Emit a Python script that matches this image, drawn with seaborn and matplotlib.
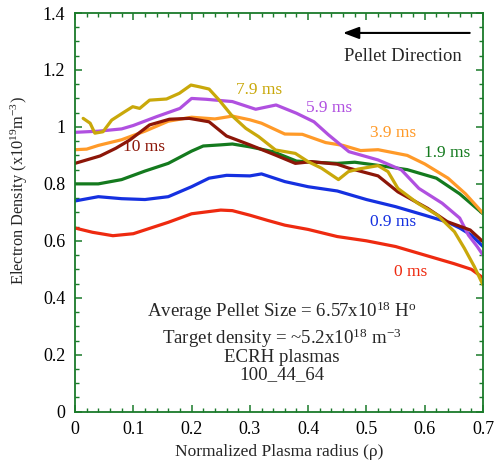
import matplotlib
matplotlib.use("Agg")
import matplotlib.pyplot as plt
import seaborn as sns
import pandas as pd
import numpy as np

sns.set_theme(style="ticks")
plt.rcParams['font.family'] = ['Liberation Serif', 'DejaVu Serif']
plt.rcParams['mathtext.fontset'] = 'custom'
plt.rcParams['mathtext.rm'] = 'Liberation Serif'
plt.rcParams['mathtext.it'] = 'Liberation Serif:italic'

# ---- data ----
x_0ms = [0, 0.03, 0.065, 0.1, 0.13, 0.16, 0.2, 0.25, 0.27, 0.3, 0.33, 0.36, 0.4, 0.45, 0.5, 0.55, 0.6, 0.65, 0.68, 0.7]
y_0ms = [0.645, 0.63, 0.618, 0.625, 0.645, 0.665, 0.695, 0.708, 0.706, 0.69, 0.672, 0.655, 0.64, 0.615, 0.60, 0.58, 0.55, 0.52, 0.50, 0.47]

x_09ms = [0, 0.04, 0.08, 0.12, 0.16, 0.2, 0.23, 0.26, 0.3, 0.32, 0.36, 0.4, 0.45, 0.5, 0.55, 0.6, 0.64, 0.66, 0.68, 0.7]
y_09ms = [0.74, 0.755, 0.748, 0.745, 0.755, 0.79, 0.82, 0.83, 0.828, 0.835, 0.808, 0.79, 0.775, 0.745, 0.72, 0.69, 0.665, 0.645, 0.62, 0.58]

x_19ms = [0, 0.04, 0.08, 0.12, 0.16, 0.2, 0.22, 0.25, 0.27, 0.3, 0.34, 0.38, 0.42, 0.45, 0.48, 0.52, 0.57, 0.62, 0.66, 0.7]
y_19ms = [0.80, 0.80, 0.815, 0.845, 0.872, 0.915, 0.933, 0.937, 0.94, 0.93, 0.913, 0.88, 0.875, 0.872, 0.876, 0.865, 0.85, 0.82, 0.765, 0.695]

x_39ms = [0, 0.02, 0.04, 0.08, 0.12, 0.16, 0.2, 0.24, 0.27, 0.3, 0.32, 0.36, 0.39, 0.43, 0.46, 0.49, 0.52, 0.57, 0.6, 0.64, 0.67, 0.7]
y_39ms = [0.92, 0.922, 0.935, 0.955, 0.985, 1.02, 1.034, 1.028, 1.038, 1.025, 1.013, 0.975, 0.974, 0.945, 0.935, 0.917, 0.92, 0.90, 0.87, 0.82, 0.765, 0.697]

x_59ms = [0, 0.04, 0.08, 0.1, 0.14, 0.18, 0.2, 0.225, 0.27, 0.31, 0.345, 0.38, 0.41, 0.435, 0.47, 0.52, 0.56, 0.59, 0.63, 0.66, 0.675, 0.69, 0.7]
y_59ms = [0.981, 0.985, 0.993, 1.005, 1.036, 1.065, 1.10, 1.097, 1.089, 1.062, 1.077, 1.048, 1.018, 0.972, 0.913, 0.884, 0.849, 0.784, 0.732, 0.68, 0.62, 0.58, 0.55]

x_79ms = [0.014, 0.026, 0.034, 0.048, 0.063, 0.085, 0.099, 0.111, 0.128, 0.157, 0.179, 0.199, 0.213, 0.23, 0.247, 0.269,
          0.293, 0.315, 0.344, 0.378, 0.4, 0.423, 0.452, 0.469, 0.486, 0.52, 0.537, 0.554, 0.588, 0.622, 0.651, 0.668, 0.685, 0.70]
y_79ms = [1.03, 1.013, 0.978, 0.983, 1.024, 1.053, 1.071, 1.065, 1.094, 1.098, 1.118, 1.147, 1.141, 1.133, 1.095, 1.04,
          0.995, 0.966, 0.919, 0.907, 0.878, 0.855, 0.815, 0.843, 0.852, 0.864, 0.843, 0.784, 0.732, 0.69, 0.632, 0.574, 0.51, 0.445]

x_10ms = [0, 0.043, 0.07, 0.094, 0.128, 0.162, 0.196, 0.23, 0.26, 0.3, 0.344, 0.378, 0.406, 0.45, 0.47, 0.52, 0.554, 0.605, 0.639, 0.678, 0.7]
y_10ms = [0.872, 0.898, 0.925, 0.954, 1.007, 1.027, 1.03, 1.018, 0.968, 0.937, 0.901, 0.872, 0.878, 0.869, 0.855, 0.828, 0.772, 0.714, 0.667, 0.638, 0.597]

series_names = ["0 ms", "0.9 ms", "1.9 ms", "3.9 ms", "5.9 ms", "10 ms", "7.9 ms"]
series_x = [x_0ms, x_09ms, x_19ms, x_39ms, x_59ms, x_10ms, x_79ms]
series_y = [y_0ms, y_09ms, y_19ms, y_39ms, y_59ms, y_10ms, y_79ms]
colors = {"0 ms": "#ee2a10", "0.9 ms": "#1530e0", "1.9 ms": "#147a1e", "3.9 ms": "#ff9a28",
          "5.9 ms": "#b050e0", "10 ms": "#8c1608", "7.9 ms": "#c9a80a"}
label_pos = {"10 ms": (0.118, 0.93), "7.9 ms": (0.315, 1.13), "5.9 ms": (0.436, 1.065),
             "3.9 ms": (0.545, 0.978), "1.9 ms": (0.639, 0.907), "0.9 ms": (0.545, 0.667),
             "0 ms": (0.576, 0.49)}

x_ticks = [0, 0.1, 0.2, 0.3, 0.4, 0.5, 0.6, 0.7]
x_ticklabels = ["0", "0.1", "0.2", "0.3", "0.4", "0.5", "0.6", "0.7"]
y_ticks = [0, 0.2, 0.4, 0.6, 0.8, 1.0, 1.2, 1.4]
y_ticklabels = ["0", "0.2", "0.4", "0.6", "0.8", "1", "1.2", "1.4"]

frames = []
for name, xs, ys in zip(series_names, series_x, series_y):
    frames.append(pd.DataFrame({"rho": xs, "ne": ys, "time": name}))
df = pd.concat(frames, ignore_index=True)

fig = plt.figure(figsize=(4.95, 4.70), dpi=100)
ax = fig.add_axes([75/495, 1-411.7/470, (483-75)/495, (411.7-13)/470])

for name in series_names:
    sub = df[df["time"] == name]
    sns.lineplot(data=sub, x="rho", y="ne", ax=ax, color=colors[name], lw=2.3,
                 sort=False, estimator=None, legend=False,
                 solid_joinstyle="round", solid_capstyle="round")
    lx, ly = label_pos[name]
    ax.text(lx, ly, name, color=colors[name], fontsize=12.5, ha="center", va="center")

ax.set_xlim(0, 0.7)
ax.set_ylim(0, 1.4)
ax.set_xticks(x_ticks)
ax.set_xticklabels(x_ticklabels)
ax.set_yticks(y_ticks)
ax.set_yticklabels(y_ticklabels)
ax.set_xticks(np.arange(0, 0.7001, 0.02), minor=True)
ax.set_yticks(np.arange(0, 1.4001, 0.05), minor=True)

green = "#1a7a2a"
for sp in ax.spines.values():
    sp.set_color(green)
    sp.set_linewidth(1.3)
    sp.set_visible(True)
ax.tick_params(which="both", direction="in", top=True, right=True, color=green,
               labelsize=13, labelcolor="black")
ax.tick_params(which="major", length=5, width=1.1, pad=7)
ax.tick_params(which="minor", length=3, width=1.0)

ax.set_xlabel("Normalized Plasma radius (\u03c1)", fontsize=12.5, labelpad=4)
ax.set_ylabel(r"Electron Density (x10$^{19}$m$^{-3}$)", fontsize=11.8)
ax.yaxis.set_label_coords(-0.11, 0.555)

# arrow and pellet direction
ax.annotate("", xy=(0.455, 1.33), xytext=(0.682, 1.33),
            arrowprops=dict(arrowstyle="-|>,head_length=0.8,head_width=0.3", color="black", lw=1.5))
ax.text(0.563, 1.247, "Pellet Direction", fontsize=13.4, ha="center", va="center")

ax.text(0.355, 0.353, r"Average Pellet Size = 6.57x10$^{18}$ H$^{\rm o}$", fontsize=13.6, ha="center", va="center")
ax.text(0.355, 0.258, r"Target density = ~5.2x10$^{18}$ m$^{-3}$", fontsize=13.6, ha="center", va="center")
ax.text(0.355, 0.19, "ECRH plasmas", fontsize=13.6, ha="center", va="center")
ax.text(0.355, 0.129, "100_44_64", fontsize=13.6, ha="center", va="center")

fig.savefig("out.png", dpi=100)
